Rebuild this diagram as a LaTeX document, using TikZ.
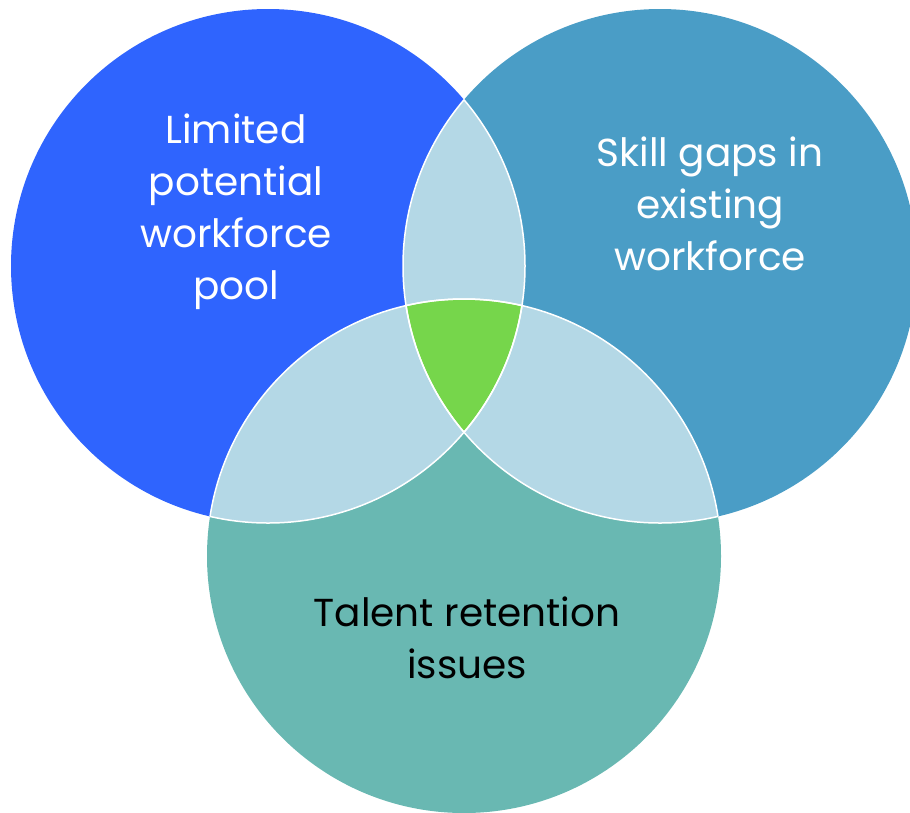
\documentclass[tikz,border=0pt]{standalone}
\usepackage{fontspec}
\setmainfont{Poppins}

\begin{document}
\begin{tikzpicture}[x=1pt,y=-1pt,every circle/.style={radius=257pt},
		edge/.style={white,line width=1.5pt},
		label/.style={align=center,font=\fontsize{39}{52}\selectfont}]
		\definecolor{poolblue}{HTML}{2F64FE}
		\definecolor{skillblue}{HTML}{4A9DC6}
		\definecolor{talentteal}{HTML}{69B8B2}
		\definecolor{overlap}{HTML}{B4D8E6}
		\definecolor{centregreen}{HTML}{76D64B}
		\useasboundingbox (0,0) rectangle (910,812);
		% centres
		\coordinate (pool) at (268,266);
		\coordinate (skill) at (660,266);
		\coordinate (talent) at (464,556);
		% circles
		\fill[poolblue] (pool) circle;
		\fill[skillblue] (skill) circle;
		\fill[talentteal] (talent) circle;
		% overlaps
		\begin{scope}
			\clip (pool) circle;
			\fill[overlap] (skill) circle;
			\fill[overlap] (talent) circle;
		\end{scope}
		\begin{scope}
			\clip (skill) circle;
			\fill[overlap] (talent) circle;
		\end{scope}
		% centre
		\begin{scope}
			\clip (pool) circle;
			\clip (skill) circle;
			\fill[centregreen] (talent) circle;
		\end{scope}
		% white edges
		\begin{scope}
			\clip (pool) circle;
			\draw[edge] (skill) circle;
			\draw[edge] (talent) circle;
		\end{scope}
		\begin{scope}
			\clip (skill) circle;
			\draw[edge] (pool) circle;
			\draw[edge] (talent) circle;
		\end{scope}
		\begin{scope}
			\clip (talent) circle;
			\draw[edge] (pool) circle;
			\draw[edge] (skill) circle;
		\end{scope}

		% labels
		\node[label,text=white] (poollabel) at (236,212) {Limited\\potential\\workforce\\pool};
		\node[label,text=white] (skilllabel) at (710,204) {Skill gaps in\\existing\\workforce};
		\node[label,text=black] (talentlabel) at (467,638) {Talent retention\\issues};
\end{tikzpicture}
\end{document}
